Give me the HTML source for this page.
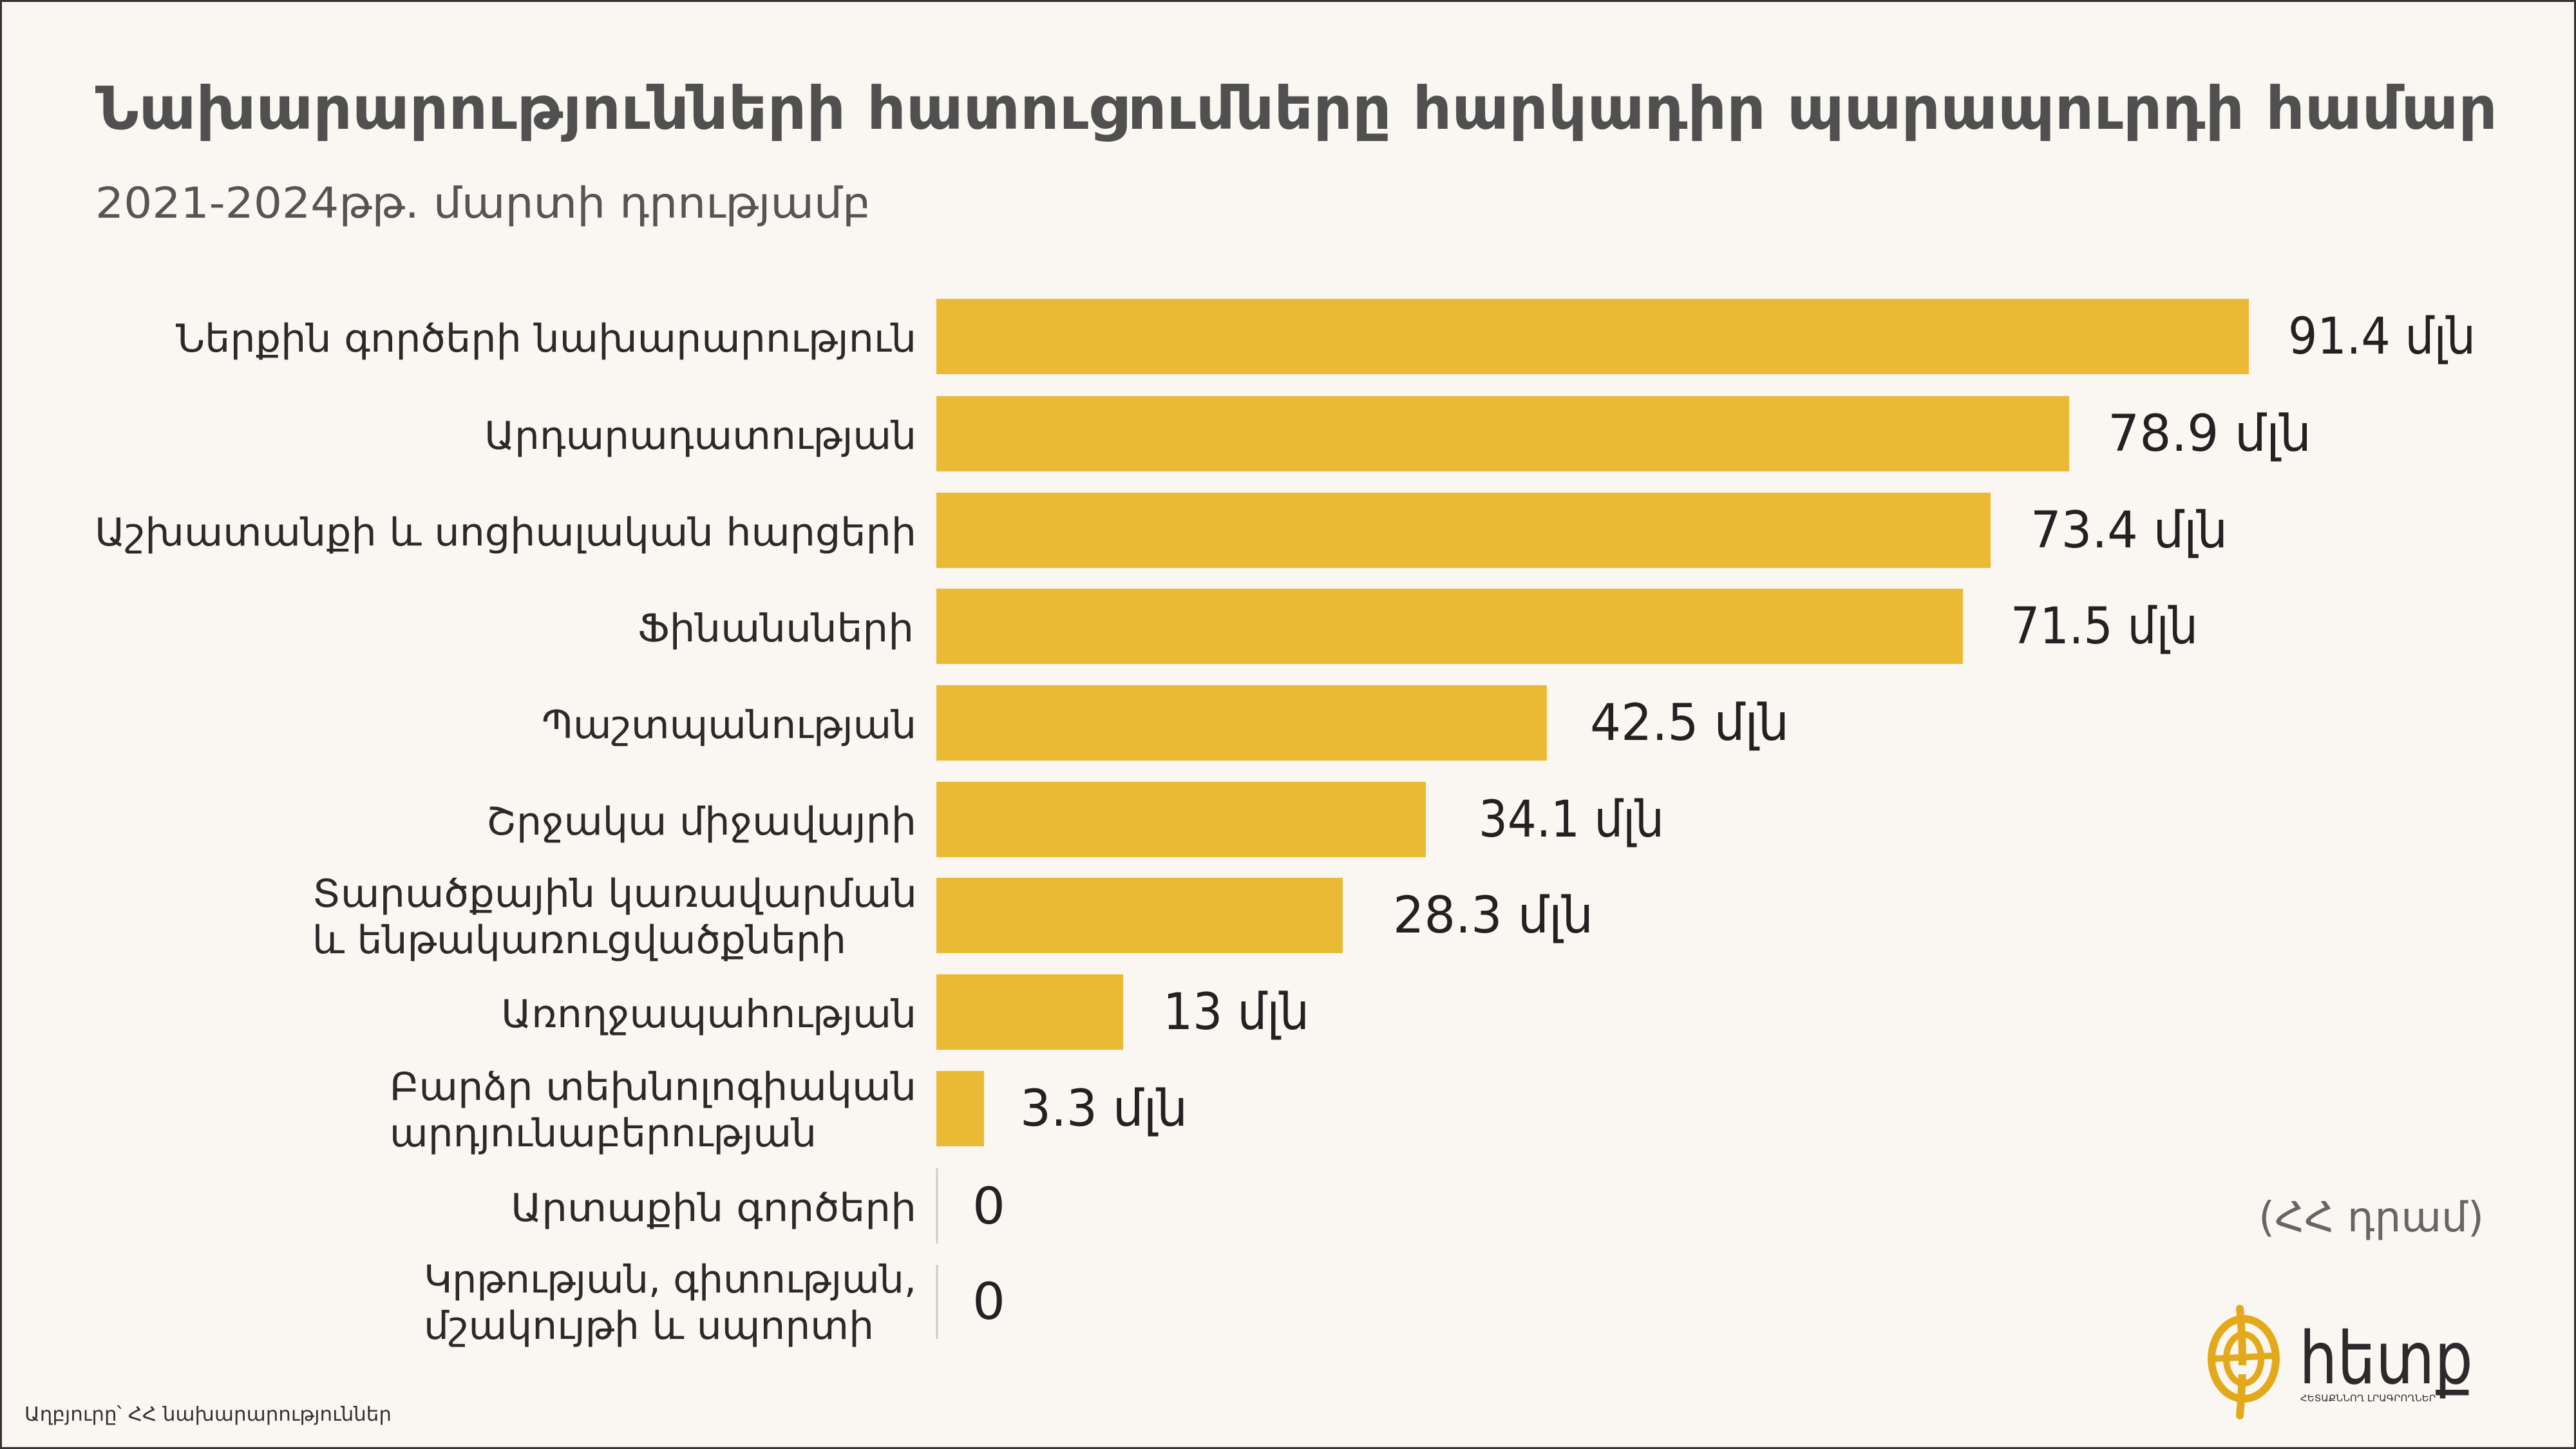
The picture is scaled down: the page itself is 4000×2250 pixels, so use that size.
<!DOCTYPE html>
<html><head><meta charset="utf-8"><style>
html,body{margin:0;padding:0;background:#FAF6F2;}
svg{display:block;}
text{font-family:"DejaVu Sans","Liberation Sans",sans-serif;}
</style></head><body>
<svg width="4000" height="2250" viewBox="0 0 4000 2250" xmlns="http://www.w3.org/2000/svg">
<rect x="0" y="0" width="4000" height="2250" fill="#FAF6F2"/>
<rect x="1.5" y="1.5" width="3997" height="2247" fill="none" stroke="#333" stroke-width="3"/>
<text x="148" y="200" font-size="92" font-weight="bold" fill="#505050" textLength="3730" lengthAdjust="spacingAndGlyphs">Նախարարությունների հատուցումները հարկադիր պարապուրդի համար</text>
<text x="148" y="338" font-size="66" fill="#555" textLength="1204" lengthAdjust="spacingAndGlyphs">2021-2024թթ. մարտի դրությամբ</text>
<g fill="#EBBA35">
<rect x="1454" y="464" width="2038" height="117"/>
<rect x="1454" y="615" width="1759" height="117"/>
<rect x="1454" y="765" width="1637" height="117"/>
<rect x="1454" y="914" width="1594" height="117"/>
<rect x="1454" y="1064" width="948" height="117"/>
<rect x="1454" y="1214" width="760" height="117"/>
<rect x="1454" y="1363" width="631" height="117"/>
<rect x="1454" y="1513" width="290" height="117"/>
<rect x="1454" y="1663" width="74" height="117"/>
</g>
<line x1="1455" y1="1814" x2="1455" y2="1931" stroke="#ccc" stroke-width="3"/>
<line x1="1455" y1="1964" x2="1455" y2="2079" stroke="#ccc" stroke-width="3"/>
<g font-size="60" fill="#2a2a2a">
<text x="1423" y="546" text-anchor="end" textLength="1150" lengthAdjust="spacingAndGlyphs">Ներքին գործերի նախարարություն</text>
<text x="1423" y="697" text-anchor="end" textLength="671" lengthAdjust="spacingAndGlyphs">Արդարադատության</text>
<text x="1423" y="847" text-anchor="end" textLength="1276" lengthAdjust="spacingAndGlyphs">Աշխատանքի և սոցիալական հարցերի</text>
<text x="1419" y="996" text-anchor="end" textLength="429" lengthAdjust="spacingAndGlyphs">Ֆինանսների</text>
<text x="1423" y="1146" text-anchor="end" textLength="582" lengthAdjust="spacingAndGlyphs">Պաշտպանության</text>
<text x="1423" y="1296" text-anchor="end" textLength="668" lengthAdjust="spacingAndGlyphs">Շրջակա միջավայրի</text>
<text x="485" y="1408" textLength="939" lengthAdjust="spacingAndGlyphs">Տարածքային կառավարման</text>
<text x="485" y="1480" textLength="829" lengthAdjust="spacingAndGlyphs">և ենթակառուցվածքների</text>
<text x="1423" y="1595" text-anchor="end" textLength="645" lengthAdjust="spacingAndGlyphs">Առողջապահության</text>
<text x="605" y="1708" textLength="818" lengthAdjust="spacingAndGlyphs">Բարձր տեխնոլոգիական</text>
<text x="605" y="1780" textLength="663" lengthAdjust="spacingAndGlyphs">արդյունաբերության</text>
<text x="1423" y="1896" text-anchor="end" textLength="630" lengthAdjust="spacingAndGlyphs">Արտաքին գործերի</text>
<text x="658" y="2007" textLength="765" lengthAdjust="spacingAndGlyphs">Կրթության, գիտության,</text>
<text x="658" y="2079" textLength="699" lengthAdjust="spacingAndGlyphs">մշակույթի և սպորտի</text>
</g>
<g font-size="78" fill="#222">
<text x="3553" y="549" textLength="291" lengthAdjust="spacingAndGlyphs">91.4 մլն</text>
<text x="3273" y="700" textLength="316" lengthAdjust="spacingAndGlyphs">78.9 մլն</text>
<text x="3153" y="850" textLength="306" lengthAdjust="spacingAndGlyphs">73.4 մլն</text>
<text x="3122" y="999" textLength="291" lengthAdjust="spacingAndGlyphs">71.5 մլն</text>
<text x="2469" y="1149" textLength="309" lengthAdjust="spacingAndGlyphs">42.5 մլն</text>
<text x="2296" y="1299" textLength="288" lengthAdjust="spacingAndGlyphs">34.1 մլն</text>
<text x="2163" y="1448" textLength="311" lengthAdjust="spacingAndGlyphs">28.3 մլն</text>
<text x="1806" y="1598" textLength="227" lengthAdjust="spacingAndGlyphs">13 մլն</text>
<text x="1584" y="1748" textLength="260" lengthAdjust="spacingAndGlyphs">3.3 մլն</text>
<text x="1510" y="1900" textLength="51" lengthAdjust="spacingAndGlyphs">0</text>
<text x="1510" y="2048" textLength="51" lengthAdjust="spacingAndGlyphs">0</text>
</g>
<text x="3857" y="1912" text-anchor="end" font-size="64" fill="#666" textLength="350" lengthAdjust="spacingAndGlyphs">(ՀՀ դրամ)</text>
<text x="38" y="2206" font-size="30" fill="#333" textLength="570" lengthAdjust="spacingAndGlyphs">Աղբյուրը՝ ՀՀ նախարարություններ</text>
<!-- logo -->
<g fill="none" stroke="#E3A91A" stroke-linecap="round">
<ellipse cx="3484" cy="2110" rx="50" ry="62" stroke-width="12"/>
<ellipse cx="3484" cy="2110" rx="27" ry="38" stroke-width="10"/>
<line x1="3436" y1="2110" x2="3532" y2="2105" stroke-width="10"/>
<path d="M3478 2032 Q3486 2110 3478 2198" stroke-width="12"/>
</g>
<rect x="3470" y="2120" width="30" height="14" fill="#FAF6F2"/>
<text x="3570" y="2148" font-size="112" fill="#2b2b2b" textLength="270" lengthAdjust="spacingAndGlyphs">հետք</text>
<text x="3572" y="2176" font-size="14" fill="#2b2b2b" textLength="210" lengthAdjust="spacingAndGlyphs">ՀԵՏԱՔՆՆՈՂ ԼՐԱԳՐՈՂՆԵՐ</text>
</svg>
</body></html>
